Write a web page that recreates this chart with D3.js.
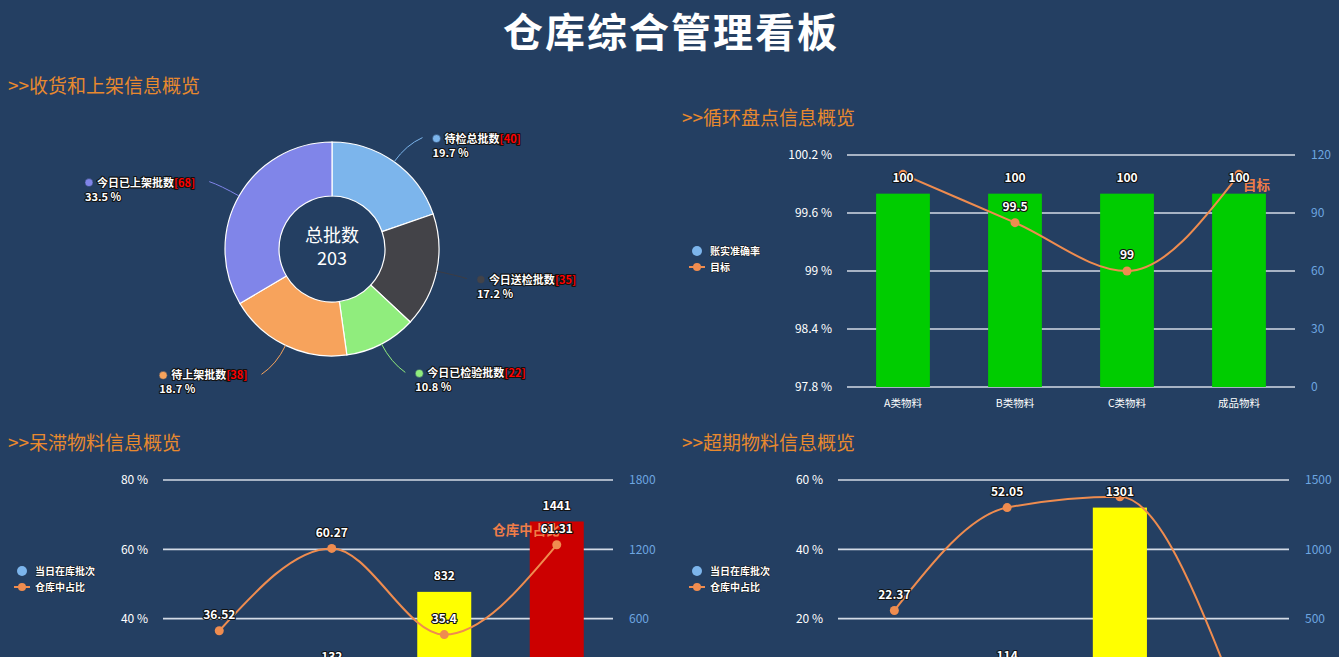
<!DOCTYPE html>
<html><head><meta charset="utf-8">
<script src="https://cdn.jsdelivr.net/npm/d3@7/dist/d3.min.js"></script>
<style>
html,body{margin:0;padding:0;background:#243f62;overflow:hidden}
svg{display:block}
text{font-family:"Noto Sans CJK SC","Noto Sans",sans-serif}
.dl{font-weight:bold;paint-order:stroke;stroke:#111;stroke-width:2.2px;stroke-linejoin:round}
</style></head><body>
<svg id="c" width="1339" height="657"></svg>
<script>
// ---------------- data ----------------
const TITLE = "仓库综合管理看板";
const sectionTitles = [">>收货和上架信息概览", ">>循环盘点信息概览", ">>呆滞物料信息概览", ">>超期物料信息概览"];

// panel 1 : donut
const pieCategories = ["待检总批数", "今日送检批数", "今日已检验批数", "待上架批数", "今日已上架批数"];
const pieValues = [40, 35, 22, 38, 68];
const pieColors = ["#7cb5ec", "#434348", "#90ed7d", "#f7a35c", "#8085e9"];
const pieCenterLabel = "总批数";

// panel 2 : cycle count
const cycleCategories = ["A类物料", "B类物料", "C类物料", "成品物料"];
const cycleBarName = "账实准确率";
const cycleBarValues = [100, 100, 100, 100];
const cycleBarColors = ["#00cc00", "#00cc00", "#00cc00", "#00cc00"];
const cycleLineName = "目标";
const cycleLineValues = [100, 99.5, 99, 100];
const cycleLeftTicks = [97.8, 98.4, 99, 99.6, 100.2];
const cycleRightTicks = [0, 30, 60, 90, 120];

// panel 3 : idle material
const idleCategories = ["A类物料", "B类物料", "C类物料", "成品物料"];
const idleBarName = "当日在库批次";
const idleBarValues = [60, 132, 832, 1441];
const idleBarColors = ["#00cc00", "#00cc00", "#ffff00", "#cc0000"];
const idleLineName = "仓库中占比";
const idleLineValues = [36.52, 60.27, 35.4, 61.31];
const idleLeftTicks = [20, 40, 60, 80];
const idleRightTicks = [0, 600, 1200, 1800];

// panel 4 : overdue material
const overCategories = ["A类物料", "B类物料", "C类物料", "成品物料"];
const overBarName = "当日在库批次";
const overBarValues = [48, 114, 1301, 30];
const overBarColors = ["#00cc00", "#00cc00", "#ffff00", "#00cc00"];
const overLineName = "仓库中占比";
const overLineValues = [22.37, 52.05, 55.18, 0.38];
const overLeftTicks = [0, 20, 40, 60];
const overRightTicks = [0, 500, 1000, 1500];

// ---------------- drawing ----------------
const W = 1339, H = 657;
const BG = "#243f62", ORANGE = "#e8892e", LINE = "#ef8c4f", RIGHT = "#6ea6e0", GRID = "#d3dbe6";
const visible = y => y < H + 5;   // skip texts that fall completely below the window
const svg = d3.select("#c");
svg.append("rect").attr("width", W).attr("height", H).attr("fill", BG);

svg.append("text").attr("x", 671).attr("y", 47).attr("text-anchor", "middle")
  .attr("fill", "#fff").style("font-size", "40px").style("font-weight", "bold")
  .style("letter-spacing", "2px").text(TITLE);

const secPos = [[8, 86], [682, 118], [8, 443], [682, 443]];
sectionTitles.forEach((t, i) => {
  svg.append("text").attr("x", secPos[i][0]).attr("y", secPos[i][1] + 7)
    .attr("fill", ORANGE).style("font-size", "19px").text(t);
});

// ---- donut ----
(function () {
  const cx = 332, cy = 249, rIn = 53, rOut = 107;
  const g = svg.append("g");
  const total = d3.sum(pieValues);
  const arcs = d3.pie().sort(null).value(d => d)(pieValues);
  const arc = d3.arc().innerRadius(rIn).outerRadius(rOut);
  g.append("g").attr("transform", `translate(${cx},${cy})`)
    .selectAll("path").data(arcs).join("path")
    .attr("d", arc).attr("fill", (d, i) => pieColors[i])
    .attr("stroke", "#fff").attr("stroke-width", 1.2);

  g.append("text").attr("x", cx).attr("y", cy - 13 + 6).attr("text-anchor", "middle")
    .attr("fill", "#fff").style("font-size", "18px").text(pieCenterLabel);
  g.append("text").attr("x", cx).attr("y", cy + 10 + 6).attr("text-anchor", "middle")
    .attr("fill", "#fff").style("font-size", "18px").text(total);

  arcs.forEach((d, i) => {
    const a = (d.startAngle + d.endAngle) / 2;
    const s = Math.sin(a), c = Math.cos(a);
    const right = s >= 0;
    const ly = cy - 138 * c + 2;
    const dy = ly - cy;
    const lx = cx + (right ? 1 : -1) * Math.sqrt(152 * 152 - dy * dy);
    const p0 = [cx + rOut * s, cy - rOut * c];
    const pc = [cx + 128 * s, cy - 128 * c];
    const p1 = [lx + (right ? -14 : 14), ly - 1];
    g.append("path")
      .attr("d", `M${p0[0]},${p0[1]}Q${pc[0]},${pc[1]} ${p1[0]},${p1[1]}`)
      .attr("fill", "none").attr("stroke", pieColors[i] === "#434348" ? "#3c3c44" : pieColors[i])
      .attr("stroke-width", 1);

    const lg = g.append("g");
    const name = lg.append("text").attr("class", "dl").style("font-size", "11px").attr("y", ly + 4);
    name.append("tspan").attr("fill", "#fff").text(pieCategories[i]);
    name.append("tspan").attr("fill", "#ff0000").text(`[${pieValues[i]}]`);
    const w = name.node().getComputedTextLength();
    const dotX = right ? lx : lx - w - 8;
    name.attr("x", dotX + 8);
    lg.append("circle").attr("cx", dotX).attr("cy", ly).attr("r", 4)
      .attr("fill", pieColors[i]).attr("stroke", "#243f62").attr("stroke-width", 0.5);
    lg.append("text").attr("class", "dl").attr("fill", "#fff").style("font-size", "11px")
      .attr("x", dotX - 4).attr("y", ly + 18)
      .text((pieValues[i] / total * 100).toFixed(1) + " %");
  });
})();

// ---- combo charts ----
function combo(o) {
  const g = svg.append("g");
  const x = d3.scaleBand().domain(o.categories).range([o.x0, o.x1]);
  const yL = d3.scaleLinear().domain(d3.extent(o.leftTicks)).range([o.yBottom, o.yTop]);
  const yR = d3.scaleLinear().domain(d3.extent(o.rightTicks)).range([o.yBottom, o.yTop]);

  // grid + left labels
  o.leftTicks.forEach(t => {
    g.append("line").attr("x1", o.x0).attr("x2", o.x1).attr("y1", yL(t)).attr("y2", yL(t))
      .attr("stroke", GRID).attr("stroke-width", 1.6);
    if (!visible(yL(t))) return;
    g.append("text").attr("x", o.x0 - 15).attr("y", yL(t)).attr("dy", "0.35em")
      .attr("text-anchor", "end").attr("fill", "#fff").style("font-size", "12px")
      .text(`${t} %`);
  });
  o.rightTicks.forEach(t => {
    if (!visible(yR(t))) return;
    g.append("text").attr("x", o.x1 + 16).attr("y", yR(t)).attr("dy", "0.35em")
      .attr("fill", RIGHT).style("font-size", "12px").text(t);
  });
  if (visible(o.yBottom + 16)) {
    o.categories.forEach(cat => {
      g.append("text").attr("x", x(cat) + x.bandwidth() / 2).attr("y", o.yBottom + 16)
        .attr("dy", "0.35em").attr("text-anchor", "middle").attr("fill", "#fff")
        .style("font-size", "10.5px").text(cat);
    });
  }

  // bars
  const bw = x.bandwidth() * 0.48;
  const barLabelY = [];
  o.barValues.forEach((v, i) => {
    const cxp = x(o.categories[i]) + x.bandwidth() / 2;
    g.append("rect").attr("x", cxp - bw / 2).attr("y", yR(v)).attr("width", bw)
      .attr("height", yR(0) - yR(v)).attr("fill", o.barColors[i]);
    barLabelY.push(yR(v) - 16);
  });

  // line
  const pts = o.lineValues.map((v, i) => [x(o.categories[i]) + x.bandwidth() / 2, yL(v)]);
  g.append("path").attr("d", d3.line().curve(d3.curveMonotoneX)(pts))
    .attr("fill", "none").attr("stroke", LINE).attr("stroke-width", 2);
  pts.forEach(p => g.append("circle").attr("cx", p[0]).attr("cy", p[1]).attr("r", 4.5).attr("fill", LINE));

  // end label (series label)
  if (o.endLabel) {
    const p = pts[pts.length - 1];
    g.append("text").attr("x", p[0] + o.endLabel.dx).attr("y", p[1] + o.endLabel.dy)
      .attr("dy", "0.35em").attr("text-anchor", o.endLabel.anchor)
      .attr("fill", "#ef7d48").style("font-size", "13.5px").style("font-weight", "bold")
      .text(o.lineName);
  }

  // data labels (bars)
  o.barValues.forEach((v, i) => {
    if (!visible(barLabelY[i])) return;
    const cxp = x(o.categories[i]) + x.bandwidth() / 2;
    g.append("text").attr("class", "dl").attr("x", cxp).attr("y", barLabelY[i]).attr("dy", "0.35em")
      .attr("text-anchor", "middle").attr("fill", "#fff").style("font-size", "12px").text(v);
  });
  // data labels (line) — hidden when they collide with a bar label
  o.lineValues.forEach((v, i) => {
    const ly = pts[i][1] - 16;
    if (Math.abs(ly - barLabelY[i]) < 21 || !visible(ly)) return;
    g.append("text").attr("class", "dl").attr("x", pts[i][0]).attr("y", ly).attr("dy", "0.35em")
      .attr("text-anchor", "middle").attr("fill", "#fff").style("font-size", "12px").text(v);
  });

  // legend
  const lx = o.legend[0], ly = o.legend[1];
  g.append("circle").attr("cx", lx).attr("cy", ly).attr("r", 5).attr("fill", "#7cb5ec");
  g.append("text").attr("class", "dl").attr("x", lx + 13).attr("y", ly).attr("dy", "0.35em")
    .attr("fill", "#fff").style("font-size", "10px").style("stroke-width", "1px").text(o.barName);
  g.append("line").attr("x1", lx - 8).attr("x2", lx + 8).attr("y1", ly + 16).attr("y2", ly + 16)
    .attr("stroke", LINE).attr("stroke-width", 2);
  g.append("circle").attr("cx", lx).attr("cy", ly + 16).attr("r", 4).attr("fill", LINE);
  g.append("text").attr("class", "dl").attr("x", lx + 13).attr("y", ly + 16).attr("dy", "0.35em")
    .attr("fill", "#fff").style("font-size", "10px").style("stroke-width", "1px").text(o.lineName);
}

combo({
  categories: cycleCategories, barValues: cycleBarValues, barColors: cycleBarColors,
  lineValues: cycleLineValues, leftTicks: cycleLeftTicks, rightTicks: cycleRightTicks,
  barName: cycleBarName, lineName: cycleLineName,
  x0: 847, x1: 1295, yTop: 155, yBottom: 387, legend: [697, 251],
  endLabel: { dx: 4, dy: 11, anchor: "start" }
});
combo({
  categories: idleCategories, barValues: idleBarValues, barColors: idleBarColors,
  lineValues: idleLineValues, leftTicks: idleLeftTicks, rightTicks: idleRightTicks,
  barName: idleBarName, lineName: idleLineName,
  x0: 163, x1: 613, yTop: 480, yBottom: 688, legend: [22, 571],
  endLabel: { dx: 3, dy: -15, anchor: "end" }
});
combo({
  categories: overCategories, barValues: overBarValues, barColors: overBarColors,
  lineValues: overLineValues, leftTicks: overLeftTicks, rightTicks: overRightTicks,
  barName: overBarName, lineName: overLineName,
  x0: 838, x1: 1289, yTop: 480, yBottom: 688, legend: [697, 571],
  endLabel: null
});
</script>
</body></html>
